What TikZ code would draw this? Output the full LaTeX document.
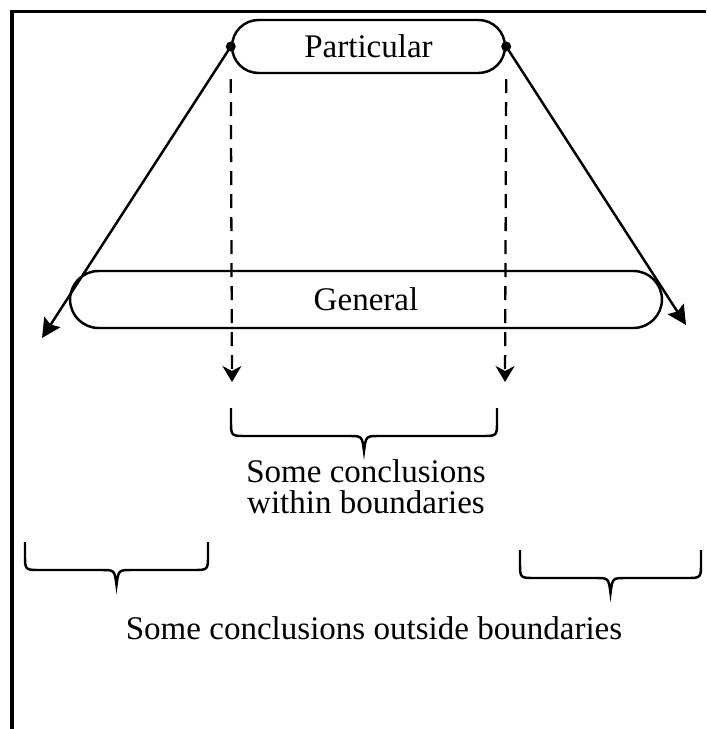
\documentclass[tikz,border=0pt]{standalone}
\usepackage{fontspec}
\setmainfont{Liberation Serif}
\usetikzlibrary{arrows.meta,shapes.misc}

\tikzset{
  caja/.style={rounded rectangle, draw, line width=1.4pt, inner sep=0pt,
    font=\fontsize{18.8}{17.6}\selectfont},
  flecha/.style={line width=1.4pt, -{Stealth[length=0.38cm,width=0.38cm,inset=0.06cm]}},
  flechaguion/.style={line width=1.3pt, dash pattern=on 0.28cm off 0.18cm,
    -{Stealth[length=0.32cm,width=0.38cm,inset=0.1cm]}},
  llave/.style={line width=1.4pt},
  punto/.style={circle, fill, inner sep=0pt, minimum size=0.2cm},
  texto/.style={align=center, font=\fontsize{18.8}{17.6}\selectfont},
}
% llave hacia abajo: x izquierda, x derecha, y de arriba
\newcommand{\llavecon}[3]{%
  \draw[llave] (#1,#3) -- (#1,#3+13) .. controls (#1,#3+28) .. (#1+15,#3+28)
    -- ({(#1+#2)/2-15},#3+28) .. controls ({(#1+#2)/2-2},#3+28) .. ({(#1+#2)/2},#3+43)
    .. controls ({(#1+#2)/2+2},#3+28) .. ({(#1+#2)/2+15},#3+28)
    -- (#2-15,#3+28) .. controls (#2,#3+28) .. (#2,#3+13) -- (#2,#3);}

\begin{document}
\begin{tikzpicture}[x=0.02cm,y=-0.02cm] % 1 unidad = 1 pixel de la figura
  \useasboundingbox (0,0) rectangle (706,729);
  \draw[line width=2pt] (12,729) -- (12,11.5) -- (706,11.5);
  \node[caja, minimum width=5.46cm, minimum height=1.06cm] (part) at (368.5,46.5) {Particular};
  \node[caja, minimum width=11.84cm, minimum height=1.14cm] (gen) at (366,299.5) {General};
  \coordinate (finL) at (42,338);
  \coordinate (finR) at (686,325);
  \coordinate (bajaL) at (232,382);
  \coordinate (bajaR) at (505,382);
  \draw[flecha] (part.west) -- (finL);
  \draw[flecha] (part.east) -- (finR);
  \draw[flechaguion] ([yshift=-0.1cm]part.south -| part.west) -- (bajaL);
  \draw[flechaguion] ([yshift=-0.1cm]part.south -| part.east) -- (bajaR);
  \node[punto] (pL) at (part.west) {};
  \node[punto] (pR) at (part.east) {};
  \llavecon{231}{497}{408}
  \llavecon{25}{208}{542}
  \llavecon{520}{701}{550}
  \node[texto] (dentro) at (366,487) {Some conclusions\\within boundaries};
  \node[texto] (fuera) at (374,628.5) {Some conclusions outside boundaries};
\end{tikzpicture}
\end{document}
